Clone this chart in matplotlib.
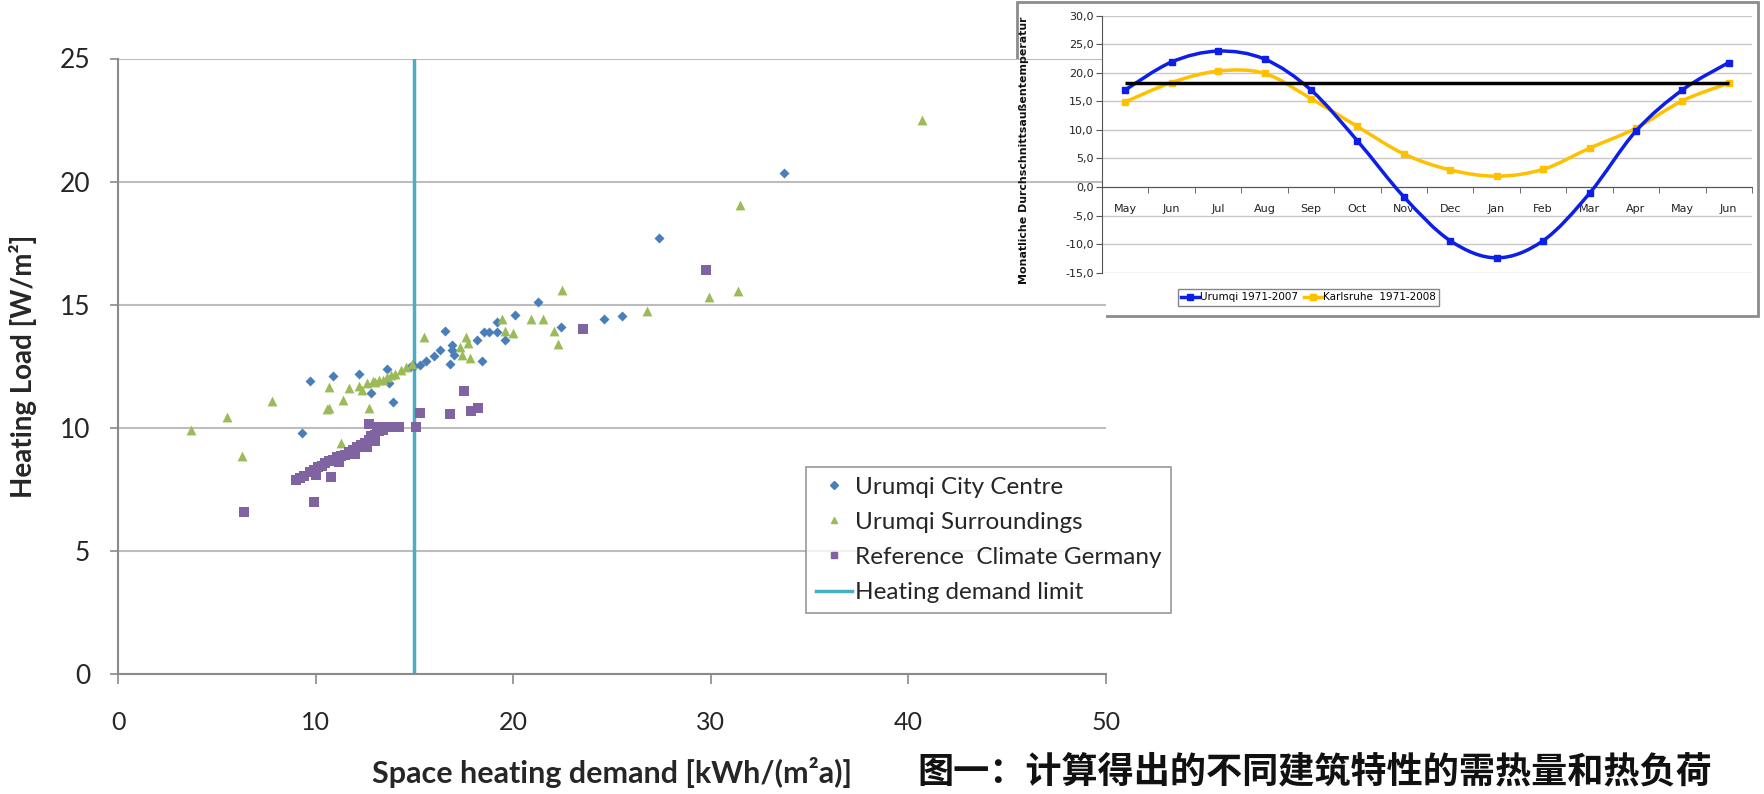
import numpy as np
import matplotlib
matplotlib.use("Agg")
import matplotlib.pyplot as plt
from matplotlib.path import Path
from matplotlib.patches import PathPatch, Rectangle
from matplotlib.lines import Line2D

# ---- main scatter data: space heating demand [kWh/(m2a)] vs heating load [W/m2]
city_x = [9.3, 9.7, 10.9, 12.2, 12.8, 13.6, 13.7, 13.9, 14.8, 15.0, 15.3, 15.6, 16.0, 16.3,
          16.55, 16.8, 16.9, 16.9, 17.0, 18.15, 18.4, 18.5, 18.8, 19.2, 19.2, 19.6, 20.1,
          21.25, 22.4, 24.6, 25.5, 27.4, 33.7]
city_y = [9.8, 11.9, 12.1, 12.2, 11.4, 12.4, 11.8, 11.05, 12.45, 12.5, 12.55, 12.7, 12.9, 13.15,
          13.95, 12.6, 13.35, 13.15, 12.95, 13.55, 12.7, 13.9, 13.9, 13.9, 14.3, 13.55, 14.6,
          15.1, 14.1, 14.4, 14.55, 17.7, 20.35]

surr_x = [3.7, 5.5, 6.3, 7.8, 10.6, 10.7, 10.7, 11.3, 11.4, 11.7, 12.2, 12.35, 12.6, 12.7,
          12.9, 13.0, 13.2, 13.4, 13.6, 13.8, 14.0, 14.3, 14.6, 14.9, 15.5, 17.3, 17.4, 17.6,
          17.7, 17.8, 19.45, 19.6, 20.0, 20.9, 21.5, 22.05, 22.25, 22.45, 26.75, 29.9, 31.4,
          31.5, 40.7]
surr_y = [9.9, 10.45, 8.85, 11.1, 10.75, 10.8, 11.65, 9.4, 11.13, 11.62, 11.7, 11.55, 11.8, 10.8,
          11.9, 11.85, 11.95, 11.95, 12.05, 12.15, 12.2, 12.35, 12.45, 12.6, 13.7, 13.3, 12.95, 13.7,
          13.45, 12.85, 14.4, 13.95, 13.85, 14.4, 14.4, 13.95, 13.4, 15.6, 14.75, 15.3, 15.55,
          19.05, 22.5]

germ_x = [6.4, 9.0, 9.2, 9.4, 9.7, 9.9, 9.9, 10.0, 10.1, 10.3, 10.5, 10.7, 10.8, 10.9, 11.1,
          11.2, 11.3, 11.5, 11.7, 11.9, 12.0, 12.1, 12.3, 12.5, 12.6, 12.7, 12.7, 12.8, 13.0,
          13.0, 13.1, 13.2, 13.4, 13.5, 13.8, 14.2, 15.1, 15.3, 16.8, 17.5, 17.85, 18.2, 23.55,
          29.75]
germ_y = [6.6, 7.9, 7.95, 8.05, 8.2, 7.0, 8.3, 8.1, 8.4, 8.45, 8.55, 8.65, 8.0, 8.7, 8.8,
          8.6, 8.85, 8.9, 9.0, 9.1, 8.95, 9.2, 9.3, 9.4, 9.2, 9.5, 10.15, 9.65, 9.7,
          9.45, 10.05, 9.85, 9.9, 10.05, 10.05, 10.05, 10.05, 10.6, 10.55, 11.5, 10.7, 10.8, 14.0,
          16.4]

heating_demand_limit = 15

# ---- inset: monthly mean outdoor temperature
months = ["May", "Jun", "Jul", "Aug", "Sep", "Oct", "Nov", "Dec", "Jan", "Feb", "Mar", "Apr", "May", "Jun"]
urumqi_temp = [17.0, 21.9, 23.8, 22.4, 17.0, 8.1, -1.7, -9.4, -12.4, -9.4, -1.1, 9.8, 17.0, 21.8]
karlsruhe_temp = [14.9, 18.3, 20.3, 19.9, 15.5, 10.6, 5.8, 3.0, 1.9, 3.1, 6.8, 10.3, 15.1, 18.2]
heating_limit_temp = 18.3
inset_yticks = [-15, -10, -5, 0, 5, 10, 15, 20, 25, 30]

FONT = "Lato"
NARROW = ["Liberation Sans Narrow", "DejaVu Sans"]
TXT = "#262626"


def smooth_path(xs, ys):
    """Excel-like smoothed line through the points (cubic Bezier segments)."""
    pts = np.column_stack([xs, ys]).astype(float)
    verts = [pts[0]]
    codes = [Path.MOVETO]
    n = len(pts)
    for i in range(n - 1):
        p0 = pts[i - 1] if i > 0 else pts[i]
        p1, p2 = pts[i], pts[i + 1]
        p3 = pts[i + 2] if i + 2 < n else pts[i + 1]
        verts += [p1 + (p2 - p0) / 6, p2 - (p3 - p1) / 6, p2]
        codes += [Path.CURVE4] * 3
    return Path(verts, codes)


fig = plt.figure(figsize=(17.64, 7.94), dpi=100)
W, H = 1764, 794

# ---------------- main chart ----------------
ax = fig.add_axes([118 / W, 1 - 674 / H, (1106 - 118) / W, (674 - 58.5) / H])
ax.set_xlim(0, 50)
ax.set_ylim(0, 25)
ax.set_yticks(range(0, 26, 5))
ax.set_xticks(range(0, 51, 10))
ax.yaxis.grid(True, color="#bdbdbd", lw=1.5)
ax.set_axisbelow(True)
for s in ["top", "right"]:
    ax.spines[s].set_visible(False)
for s in ["left", "bottom"]:
    ax.spines[s].set_color("#8a8a8a")
    ax.spines[s].set_linewidth(1.5)
ax.tick_params(axis="y", length=6, width=1.2, color="#8a8a8a", pad=14, labelsize=19, labelcolor=TXT)
ax.tick_params(axis="x", length=7, width=1.2, color="#8a8a8a", pad=20, labelsize=18, labelcolor=TXT)
for lab in ax.get_xticklabels() + ax.get_yticklabels():
    lab.set_family(FONT)

ax.scatter(city_x, city_y, marker="D", s=26, color="#4a7ebb", lw=0, zorder=3)
ax.scatter(surr_x, surr_y, marker="^", s=50, color="#9bbb59", lw=0, zorder=3)
ax.scatter(germ_x, germ_y, marker="s", s=50, color="#8064a2", lw=0, zorder=3)
ax.axvline(heating_demand_limit, color="#4bacc6", lw=2.5, zorder=2)

ax.set_xlabel("Space heating demand [kWh/(m²a)]", family=FONT, fontweight="bold",
              fontsize=22, color=TXT, labelpad=16)
ax.set_ylabel("Heating Load [W/m²]", family=FONT, fontweight="bold",
              fontsize=20, color=TXT, labelpad=16)

handles = [
    Line2D([], [], marker="D", ms=4, color="#4a7ebb", ls="none"),
    Line2D([], [], marker="^", ms=5, color="#9bbb59", ls="none"),
    Line2D([], [], marker="s", ms=5, color="#8064a2", ls="none"),
    Line2D([], [], color="#4bacc6", lw=2.5),
]
labels = ["Urumqi City Centre", "Urumqi Surroundings", "Reference  Climate Germany",
          "Heating demand limit"]
leg = fig.legend(handles, labels, loc="upper left", bbox_to_anchor=(806 / W, 1 - 467 / H),
                 prop={"family": FONT, "size": 17.5}, frameon=True, fancybox=False,
                 edgecolor="#7f7f7f", handlelength=1.5, handletextpad=0.1,
                 labelspacing=0.58, borderpad=0.4, borderaxespad=0, labelcolor=TXT)
leg.get_frame().set_linewidth(1.2)

fig.text(917 / W, 1 - 772 / H, "图一：计算得出的不同建筑特性的需热量和热负荷",
         family=["Noto Sans CJK SC", "DejaVu Sans"], fontweight="bold", fontsize=26,
         va="center", ha="left", color="#111111")

# ---------------- inset chart ----------------
fig.add_artist(Rectangle((1017 / W, 1 - 316 / H), (1758 - 1017) / W, (316 - 2) / H,
                         transform=fig.transFigure, facecolor="white",
                         edgecolor="#8c8c8c", lw=2, zorder=0))

ix = fig.add_axes([1102 / W, 1 - 272.7 / H, (1752 - 1102) / W, (272.7 - 15.7) / H])
ix.set_facecolor("white")
xpos = np.arange(len(months))
ix.set_xlim(-0.5, 13.5)
ix.set_ylim(-15, 30)
ix.set_yticks(inset_yticks)
ix.set_yticklabels([f"{v:.1f}".replace(".", ",") for v in inset_yticks])
ix.set_xticks(xpos)
ix.set_xticklabels(months)
ix.set_xticks(np.arange(-0.5, 14, 1), minor=True)
ix.yaxis.grid(True, color="#c8c8c8", lw=1)
ix.set_axisbelow(True)
ix.spines["top"].set_visible(False)
ix.spines["right"].set_visible(False)
ix.spines["bottom"].set_position(("data", 0))
ix.spines["bottom"].set_color("#555555")
ix.spines["left"].set_color("#555555")
ix.tick_params(axis="x", which="major", length=0, pad=12, labelsize=8, labelcolor="#222222")
ix.tick_params(axis="x", which="minor", length=4, color="#555555")
ix.tick_params(axis="y", length=4, pad=2, labelsize=8, labelcolor="#222222", color="#555555")
for lab in ix.get_xticklabels() + ix.get_yticklabels():
    lab.set_family(NARROW)

blue, gold = "#0d1ee8", "#ffc000"
ix.add_patch(PathPatch(smooth_path(xpos, karlsruhe_temp), fill=False, edgecolor=gold, lw=2.5, zorder=3))
ix.add_patch(PathPatch(smooth_path(xpos, urumqi_temp), fill=False, edgecolor=blue, lw=2.5, zorder=4))
ix.plot(xpos, karlsruhe_temp, ls="none", marker="s", ms=4, color=gold, zorder=3)
ix.plot(xpos, urumqi_temp, ls="none", marker="s", ms=4, color=blue, zorder=4)
ix.hlines(heating_limit_temp, xpos[0], xpos[-1], color="black", lw=2.5, zorder=5)

ix.set_ylabel("Monatliche Durchschnittsaußentemperatur", fontsize=7.9, fontweight="bold",
              family="DejaVu Sans", color="#111111")
ix.yaxis.set_label_coords(-0.112, 0.475)

ileg = fig.legend([Line2D([], [], color=blue, lw=2.5, marker="s", ms=4),
                   Line2D([], [], color=gold, lw=2.5, marker="s", ms=4)],
                  ["Urumqi 1971-2007", "Karlsruhe  1971-2008"], ncol=2, loc="center",
                  bbox_to_anchor=((1190 + 1427) / 2 / W, 1 - 297.5 / H),
                  prop={"family": NARROW, "size": 7.5},
                  frameon=True, fancybox=False, edgecolor="#666666", handlelength=1.7,
                  handletextpad=0.1, columnspacing=0.6, borderpad=0.3)
ileg.get_frame().set_linewidth(1)

fig.savefig("out.png", dpi=100)
